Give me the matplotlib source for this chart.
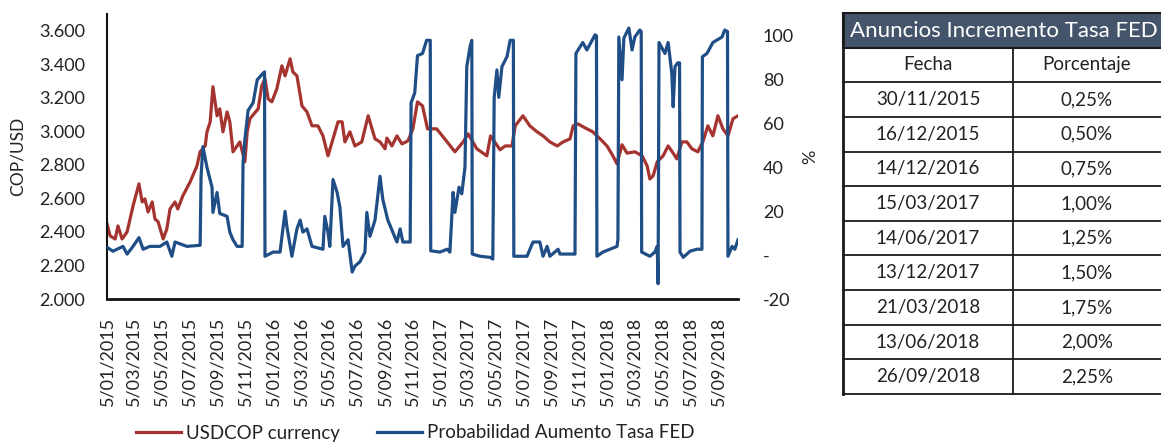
import matplotlib
matplotlib.use("Agg")
import matplotlib.pyplot as plt
from matplotlib.lines import Line2D
from matplotlib.patches import Rectangle
import pandas as pd

plt.rcParams['font.family'] = ['Lato', 'DejaVu Sans']

# ---------------- data ----------------
cop_dates = ["2015-01-05", "2015-01-12", "2015-01-23", "2015-01-29", "2015-02-07", "2015-02-18",
             "2015-03-03", "2015-03-16", "2015-03-23", "2015-03-29", "2015-04-05", "2015-04-14",
             "2015-04-20", "2015-04-27", "2015-05-08", "2015-05-16", "2015-05-23", "2015-06-03",
             "2015-06-09", "2015-06-20", "2015-07-06", "2015-07-21", "2015-07-28", "2015-08-08",
             "2015-08-12", "2015-08-19", "2015-08-25", "2015-09-03", "2015-09-09", "2015-09-16",
             "2015-09-25", "2015-10-01", "2015-10-08", "2015-10-23", "2015-11-03", "2015-11-08",
             "2015-11-14", "2015-12-02", "2015-12-10", "2015-12-17", "2015-12-24", "2016-01-01",
             "2016-01-12", "2016-01-23", "2016-01-30", "2016-02-10", "2016-02-16", "2016-02-25",
             "2016-03-07", "2016-03-18", "2016-03-29", "2016-04-11", "2016-04-22", "2016-05-03",
             "2016-05-14", "2016-05-25", "2016-06-03", "2016-06-09", "2016-06-20", "2016-07-01",
             "2016-07-16", "2016-07-30", "2016-08-14", "2016-08-25", "2016-09-05", "2016-09-09",
             "2016-09-20", "2016-10-01", "2016-10-12", "2016-10-25", "2016-11-05", "2016-11-15",
             "2016-11-26", "2016-12-07", "2016-12-27", "2017-01-19", "2017-02-05", "2017-02-23",
             "2017-03-06", "2017-03-25", "2017-04-16", "2017-04-24", "2017-05-15", "2017-05-26",
             "2017-06-10", "2017-06-17", "2017-07-04", "2017-07-19", "2017-08-04", "2017-08-17",
             "2017-09-01", "2017-09-17", "2017-09-30", "2017-10-15", "2017-10-22", "2017-11-01",
             "2017-11-21", "2017-12-04", "2017-12-20", "2018-01-04", "2018-01-17", "2018-01-26",
             "2018-02-06", "2018-02-17", "2018-03-06", "2018-03-22", "2018-04-02", "2018-04-08",
             "2018-04-15", "2018-04-24", "2018-05-07", "2018-05-18", "2018-05-29", "2018-06-06",
             "2018-06-17", "2018-06-28", "2018-07-09", "2018-07-22", "2018-08-02", "2018-08-13",
             "2018-08-24", "2018-09-04", "2018-09-15", "2018-09-26", "2018-10-07", "2018-10-18"]
cop_values = [2448, 2376, 2358, 2436, 2358, 2400,
              2555, 2687, 2579, 2597, 2519, 2579,
              2478, 2460, 2358, 2418, 2537, 2579,
              2537, 2615, 2698, 2794, 2878, 2913,
              2997, 3057, 3266, 3093, 3134, 2997,
              3116, 3057, 2878, 2937, 2818, 2997,
              3075, 3134, 3272, 3313, 3194, 3176,
              3254, 3391, 3331, 3433, 3355, 3331,
              3152, 3116, 3033, 3033, 2973, 2854,
              2955, 3057, 3057, 2937, 2997, 2913,
              2937, 3093, 2955, 2937, 2896, 2960,
              2913, 2973, 2925, 2943, 3015, 3176,
              3152, 3015, 3015, 2937, 2878, 2937,
              2985, 2896, 2854, 2973, 2890, 2913,
              2913, 3033, 3093, 3033, 2997, 2973,
              2937, 2913, 2937, 2955, 3033, 3045,
              3015, 2997, 2955, 2913, 2854, 2806,
              2920, 2870, 2878, 2854, 2794, 2716,
              2734, 2818, 2854, 2913, 2870, 2836,
              2937, 2937, 2896, 2878, 2937, 3033,
              2973, 3093, 3015, 2973, 3075, 3093]

fed_dates = ["2015-01-05", "2015-01-18", "2015-02-09", "2015-02-18", "2015-03-03", "2015-03-16",
             "2015-03-25", "2015-04-09", "2015-05-01", "2015-05-16", "2015-05-27", "2015-06-03",
             "2015-06-29", "2015-07-28", "2015-07-30", "2015-08-03", "2015-08-12", "2015-08-23",
             "2015-08-25", "2015-09-03", "2015-09-09", "2015-09-25", "2015-10-01", "2015-10-08",
             "2015-10-17", "2015-10-28", "2015-10-30", "2015-11-03", "2015-11-10", "2015-11-21",
             "2015-11-30", "2015-12-13", "2015-12-16", "2015-12-17", "2016-01-04", "2016-01-19",
             "2016-01-30", "2016-02-03", "2016-02-14", "2016-02-25", "2016-03-03", "2016-03-09",
             "2016-03-18", "2016-03-29", "2016-04-22", "2016-04-26", "2016-05-03", "2016-05-07",
             "2016-05-14", "2016-05-23", "2016-05-29", "2016-06-05", "2016-06-16", "2016-06-25",
             "2016-07-01", "2016-07-12", "2016-07-23", "2016-07-27", "2016-08-03", "2016-08-14",
             "2016-08-25", "2016-08-31", "2016-09-11", "2016-09-22", "2016-10-01", "2016-10-08",
             "2016-10-14", "2016-10-30", "2016-11-01", "2016-11-09", "2016-11-15", "2016-11-26",
             "2016-12-05", "2016-12-13", "2016-12-14", "2017-01-03", "2017-01-19", "2017-01-25",
             "2017-02-01", "2017-02-05", "2017-02-14", "2017-02-20", "2017-02-27", "2017-03-03",
             "2017-03-10", "2017-03-14", "2017-03-15", "2017-04-01", "2017-04-23", "2017-04-29",
             "2017-05-02", "2017-05-08", "2017-05-12", "2017-05-19", "2017-05-30", "2017-06-06",
             "2017-06-13", "2017-06-14", "2017-07-13", "2017-07-26", "2017-08-10", "2017-08-17",
             "2017-08-26", "2017-09-01", "2017-09-19", "2017-09-23", "2017-10-26", "2017-10-28",
             "2017-11-12", "2017-11-21", "2017-12-09", "2017-12-12", "2017-12-13", "2017-12-26",
             "2018-01-26", "2018-01-28", "2018-01-30", "2018-02-06", "2018-02-10", "2018-02-21",
             "2018-02-28", "2018-03-06", "2018-03-17", "2018-03-20", "2018-03-21", "2018-04-08",
             "2018-04-19", "2018-04-24", "2018-04-26", "2018-04-28", "2018-05-11", "2018-05-18",
             "2018-05-26", "2018-05-29", "2018-06-02", "2018-06-08", "2018-06-12", "2018-06-13",
             "2018-06-20", "2018-07-05", "2018-07-20", "2018-07-31", "2018-08-01", "2018-08-11",
             "2018-08-24", "2018-09-13", "2018-09-19", "2018-09-25", "2018-09-26", "2018-10-05",
             "2018-10-11", "2018-10-18"]
fed_values = [3.6, 1.8, 4, 0.5, 4, 8,
              2.7, 4, 4, 6, -0.5, 6,
              4, 4.5, 36, 49.5, 40, 31,
              19.5, 28.6, 19, 17.7, 10.5, 7,
              4, 4, 42, 52.7, 66, 69.5,
              80, 83, 83.6, -0.5, 1.4, 1.4,
              20, 13, -0.5, 12, 16, 10.5,
              12, 4, 2.7, 17.7, 10.5, 4,
              34.5, 28.6, 22, 4, 7, -7.7,
              -5, -3, 1.4, 19.5, 8.6, 16,
              36, 25.5, 16, 10.5, 6, 12,
              6, 6, 69.5, 74, 91, 92,
              98, 98, 2, 1.4, 2.7, 1.4,
              28.6, 19.5, 31, 28, 40, 86,
              95, 98, 0.5, -0.5, -1, -1.8,
              72, 84.5, 72, 86, 90.5, 98,
              98, -0.5, -0.5, 6, 6, -0.5,
              4, -0.5, 2.7, 0.5, 0.5, 92,
              97, 93.6, 100.5, 100, -0.5, 1.4,
              4, 7, 99.5, 80, 99, 103.6,
              93.6, 99.5, 102.7, 102, 1.4, -0.5,
              1.4, 4, -13, 97, 92, 97,
              83, 67.7, 86, 87.7, 87.7, 1.4,
              -1, 1.8, 2.7, 2.7, 90.5, 92,
              97, 99.5, 102.7, 102, -0.5, 4,
              2.7, 7]

x_tick_dates = ["2015-01-05", "2015-03-05", "2015-05-05", "2015-07-05", "2015-09-05", "2015-11-05",
                "2016-01-05", "2016-03-05", "2016-05-05", "2016-07-05", "2016-09-05", "2016-11-05",
                "2017-01-05", "2017-03-05", "2017-05-05", "2017-07-05", "2017-09-05", "2017-11-05",
                "2018-01-05", "2018-03-05", "2018-05-05", "2018-07-05", "2018-09-05"]
x_tick_labels = ["5/01/2015", "5/03/2015", "5/05/2015", "5/07/2015", "5/09/2015", "5/11/2015",
                 "5/01/2016", "5/03/2016", "5/05/2016", "5/07/2016", "5/09/2016", "5/11/2016",
                 "5/01/2017", "5/03/2017", "5/05/2017", "5/07/2017", "5/09/2017", "5/11/2017",
                 "5/01/2018", "5/03/2018", "5/05/2018", "5/07/2018", "5/09/2018"]
x_range = ["2015-01-05", "2018-10-18"]

left_ticks = [2000, 2200, 2400, 2600, 2800, 3000, 3200, 3400, 3600]
left_tick_labels = ["2.000", "2.200", "2.400", "2.600", "2.800", "3.000", "3.200", "3.400", "3.600"]
left_range = [2000, 3700]
right_ticks = [-20, 0, 20, 40, 60, 80, 100]
right_tick_labels = ["-20", "-", "20", "40", "60", "80", "100"]
right_range = [-20, 110]

series_names = ["USDCOP currency", "Probabilidad Aumento Tasa FED"]
left_axis_title = "COP/USD"
right_axis_title = "%"

table_title = "Anuncios Incremento Tasa FED"
table_columns = ["Fecha", "Porcentaje"]
hike_dates = ["30/11/2015", "16/12/2015", "14/12/2016", "15/03/2017", "14/06/2017",
              "13/12/2017", "21/03/2018", "13/06/2018", "26/09/2018"]
hike_rates = ["0,25%", "0,50%", "0,75%", "1,00%", "1,25%", "1,50%", "1,75%", "2,00%", "2,25%"]

# ---------------- styling ----------------
RED = "#A5332F"
BLUE = "#1F4E87"
HEADER = "#44546A"
TXT = "#222222"
W, H = 1161, 443

fig = plt.figure(figsize=(W / 100, H / 100), dpi=100)
fig.patch.set_facecolor("white")

def fx(px):
    return px / W

def fy(py):
    return 1 - py / H

ax = fig.add_axes([fx(107), fy(299), fx(738) - fx(107), fy(14) - fy(299)])
ax2 = ax.twinx()

cd = pd.to_datetime(cop_dates)
fd = pd.to_datetime(fed_dates)

ax.plot(cd, cop_values, color=RED, lw=2.3, solid_joinstyle="round", label=series_names[0])
ax2.plot(fd, fed_values, color=BLUE, lw=2.3, solid_joinstyle="round", label=series_names[1])

ax.set_xlim(pd.to_datetime(x_range[0]), pd.to_datetime(x_range[1]))
ax.set_ylim(*left_range)
ax2.set_ylim(*right_range)

ax.set_xticks(pd.to_datetime(x_tick_dates))
ax.set_xticklabels(x_tick_labels, rotation=90, fontsize=13, color=TXT)
ax.set_yticks(left_ticks)
ax.set_yticklabels(left_tick_labels, fontsize=13, color=TXT)
ax2.set_yticks(right_ticks)
ax2.set_yticklabels(right_tick_labels, fontsize=13, color=TXT, ha="left")

ax.tick_params(axis="x", length=0, pad=13)
ax.tick_params(axis="y", length=0, pad=16)
ax2.tick_params(axis="y", length=0, pad=18)

for s in ["top", "right"]:
    ax.spines[s].set_visible(False)
for s in ["top", "right", "left", "bottom"]:
    ax2.spines[s].set_visible(False)
ax.spines["left"].set_linewidth(1.5)
ax.spines["left"].set_color("#111111")
ax.spines["bottom"].set_linewidth(2.0)
ax.spines["bottom"].set_color("#111111")

fig.text(fx(18), fy(156), left_axis_title, rotation=90, ha="center", va="center",
         fontsize=12.5, color=TXT)
fig.text(fx(810), fy(157), right_axis_title, rotation=90, ha="center", va="center",
         fontsize=13, color=TXT)

handles = [Line2D([], [], color=RED, lw=2.3), Line2D([], [], color=BLUE, lw=2.3)]
fig.legend(handles, series_names, loc="center", bbox_to_anchor=(fx(415), fy(433)), ncol=2,
           frameon=False, fontsize=13.5, handlelength=2.4, handletextpad=0.25,
           columnspacing=2.0, labelcolor=TXT)

# ---------------- table ----------------
t_left, t_right, t_top, t_bottom = 843, 1161, 13, 394
col_div = 1013
tax = fig.add_axes([fx(t_left), fy(t_bottom), fx(t_right) - fx(t_left), fy(t_top) - fy(t_bottom)])
tax.set_xlim(t_left, t_right)
tax.set_ylim(t_bottom, t_top)
tax.axis("off")

n_rows = 2 + len(hike_dates)
rh = (t_bottom - t_top) / n_rows

tax.add_patch(Rectangle((t_left, t_top), t_right + 10 - t_left, rh, facecolor=HEADER,
                        edgecolor="#1a1a1a", lw=1.5, clip_on=False))
tax.text((t_left + t_right) / 2 + 2, t_top + rh / 2 + 1, table_title, ha="center", va="center",
         color="white", fontsize=16)

for i in range(1, n_rows + 1):
    yy = t_top + i * rh
    tax.plot([t_left, t_right + 5], [yy, yy], color="#1a1a1a", lw=1.3, clip_on=False)
tax.plot([t_left, t_left], [t_top, t_bottom], color="#1a1a1a", lw=2.0, clip_on=False)
tax.plot([col_div, col_div], [t_top + rh, t_bottom], color="#1a1a1a", lw=1.3, clip_on=False)

c1 = (t_left + col_div) / 2
c2 = (col_div + t_right) / 2
tax.text(c1, t_top + 1.5 * rh, table_columns[0], ha="center", va="center", fontsize=13.5, color=TXT)
tax.text(c2, t_top + 1.5 * rh, table_columns[1], ha="center", va="center", fontsize=13.5, color=TXT)
for i, (d, r) in enumerate(zip(hike_dates, hike_rates)):
    yc = t_top + (i + 2.5) * rh
    tax.text(c1, yc, d, ha="center", va="center", fontsize=13.5, color=TXT)
    tax.text(c2, yc, r, ha="center", va="center", fontsize=13.5, color=TXT)

fig.savefig("out.png", dpi=100, facecolor="white")
